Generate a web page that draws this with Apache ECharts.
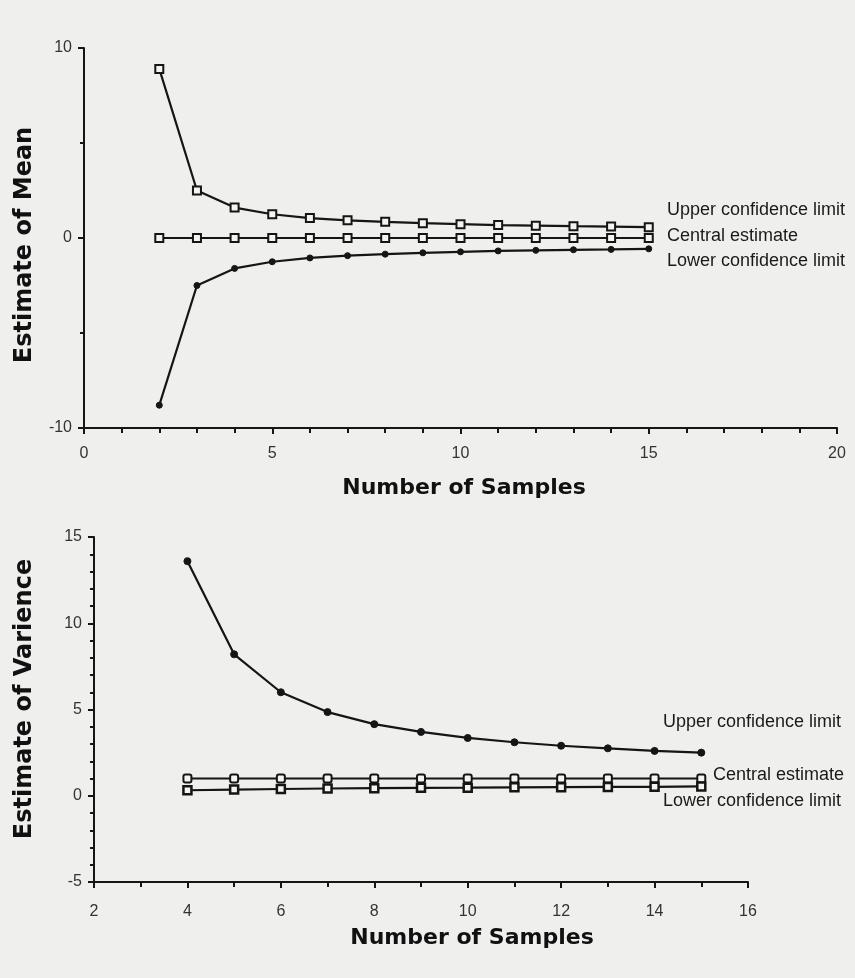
<!DOCTYPE html>
<html>
<head>
<meta charset="utf-8">
<script src="https://cdn.jsdelivr.net/npm/echarts@6/dist/echarts.min.js"></script>
<style>
  html, body { margin: 0; padding: 0; background: #efefed; }
  #chart { width: 855px; height: 978px; }
</style>
</head>
<body>
<div id="chart"></div>
<script>
// estimate of mean, samples 2..15
const meanSamples = [2, 3, 4, 5, 6, 7, 8, 9, 10, 11, 12, 13, 14, 15];
const meanUpper = [8.9, 2.5, 1.6, 1.25, 1.05, 0.93, 0.85, 0.78, 0.73, 0.68, 0.65, 0.62, 0.6, 0.57];
const meanCentral = [0, 0, 0, 0, 0, 0, 0, 0, 0, 0, 0, 0, 0, 0];
const meanLower = [-8.8, -2.5, -1.6, -1.25, -1.05, -0.93, -0.85, -0.78, -0.73, -0.68, -0.65, -0.62, -0.6, -0.57];

// estimate of variance, samples 4..15
const varSamples = [4, 5, 6, 7, 8, 9, 10, 11, 12, 13, 14, 15];
const varUpper = [13.6, 8.2, 6.0, 4.85, 4.15, 3.7, 3.35, 3.1, 2.9, 2.75, 2.6, 2.5];
const varCentral = [1, 1, 1, 1, 1, 1, 1, 1, 1, 1, 1, 1];
const varLower = [0.32, 0.36, 0.39, 0.42, 0.44, 0.46, 0.47, 0.49, 0.5, 0.51, 0.52, 0.54];

const meanXTicks = [0, 20, 5];   // min, max, interval
const meanYTicks = [-10, 10, 10];
const varXTicks = [2, 16, 2];
const varYTicks = [-5, 15, 5];

const labelNames = ['Upper confidence limit', 'Central estimate', 'Lower confidence limit'];

const ink = '#151515';
const labelFont = 'Liberation Sans, Arial, sans-serif';
const titleFont = 'DejaVu Sans, Verdana, sans-serif';

function pairs(xs, ys) {
    return xs.map((x, i) => [x, ys[i]]);
}

function axis(ticks, idx, extra) {
    return Object.assign({
        type: 'value',
        gridIndex: idx,
        min: ticks[0],
        max: ticks[1],
        interval: ticks[2],
        splitLine: { show: false },
        axisLine: { show: true, onZero: false, lineStyle: { color: ink, width: 2 } },
        axisTick: { show: true, length: 6, lineStyle: { color: ink, width: 2 } },
        axisLabel: { color: '#333', fontSize: 15, fontFamily: labelFont }
    }, extra);
}

function line(name, xi, data, symbol, size, hollow, bw) {
    return {
        name: name,
        type: 'line',
        xAxisIndex: xi,
        yAxisIndex: xi,
        data: data,
        symbol: symbol,
        symbolSize: size,
        showSymbol: true,
        lineStyle: { color: ink, width: 2.2 },
        itemStyle: {
            color: hollow ? '#f4f4f2' : ink,
            borderColor: ink,
            borderWidth: bw
        },
        z: 3
    };
}

function txt(x, y, s, opts) {
    return {
        type: 'text',
        x: x,
        y: y,
        rotation: (opts && opts.rotation) || 0,
        style: Object.assign({
            text: s,
            fill: '#1a1a1a',
            font: '18px ' + labelFont,
            textAlign: 'left',
            textVerticalAlign: 'middle'
        }, opts && opts.style)
    };
}

const xTitleStyle = { font: 'bold 22px ' + titleFont, textAlign: 'center', fill: '#111' };
const yTitleStyle = { font: 'bold 24px ' + titleFont, textAlign: 'center', fill: '#111' };

const chart = echarts.init(document.getElementById('chart'));

chart.setOption({
    backgroundColor: '#efefed',
    animation: false,
    grid: [
        { left: 84, top: 48, width: 753, height: 380 },
        { left: 94, top: 537, width: 654, height: 345 }
    ],
    xAxis: [
        axis(meanXTicks, 0, {
            minorTick: { show: true, splitNumber: 5, length: 5, lineStyle: { color: ink, width: 2 } },
            axisLabel: { color: '#333', fontSize: 16, fontFamily: labelFont, margin: 18 }
        }),
        axis(varXTicks, 1, {
            minorTick: { show: true, splitNumber: 2, length: 5, lineStyle: { color: ink, width: 2 } },
            axisLabel: { color: '#333', fontSize: 16, fontFamily: labelFont, margin: 22 }
        })
    ],
    yAxis: [
        axis(meanYTicks, 0, {
            minorTick: { show: true, splitNumber: 2, length: 4, lineStyle: { color: ink, width: 2 } },
            axisLabel: { color: '#333', fontSize: 16, fontFamily: labelFont, margin: 12 }
        }),
        axis(varYTicks, 1, {
            minorTick: { show: true, splitNumber: 5, length: 4, lineStyle: { color: ink, width: 2 } },
            axisLabel: { color: '#333', fontSize: 16, fontFamily: labelFont, margin: 12 }
        })
    ],
    series: [
        line(labelNames[0], 0, pairs(meanSamples, meanUpper), 'rect', 8, true, 2),
        line(labelNames[1], 0, pairs(meanSamples, meanCentral), 'rect', 8, true, 2),
        line(labelNames[2], 0, pairs(meanSamples, meanLower), 'circle', 6, false, 1),
        line(labelNames[0], 1, pairs(varSamples, varUpper), 'circle', 7, false, 1),
        line(labelNames[1], 1, pairs(varSamples, varCentral), 'roundRect', 8, true, 2),
        line(labelNames[2], 1, pairs(varSamples, varLower), 'rect', 8, true, 2.5)
    ],
    graphic: [
        // series labels, top chart
        txt(667, 210, labelNames[0]),
        txt(667, 236, labelNames[1]),
        txt(667, 261, labelNames[2]),
        // series labels, bottom chart
        txt(663, 722, labelNames[0]),
        txt(713, 775, labelNames[1]),
        txt(663, 801, labelNames[2]),
        // axis titles
        txt(464, 488, 'Number of Samples', { style: xTitleStyle }),
        txt(472, 938, 'Number of Samples', { style: xTitleStyle }),
        txt(25, 245, 'Estimate of Mean', { rotation: Math.PI / 2, style: yTitleStyle }),
        txt(25, 699, 'Estimate of Varience', { rotation: Math.PI / 2, style: yTitleStyle })
    ]
});
</script>
</body>
</html>
